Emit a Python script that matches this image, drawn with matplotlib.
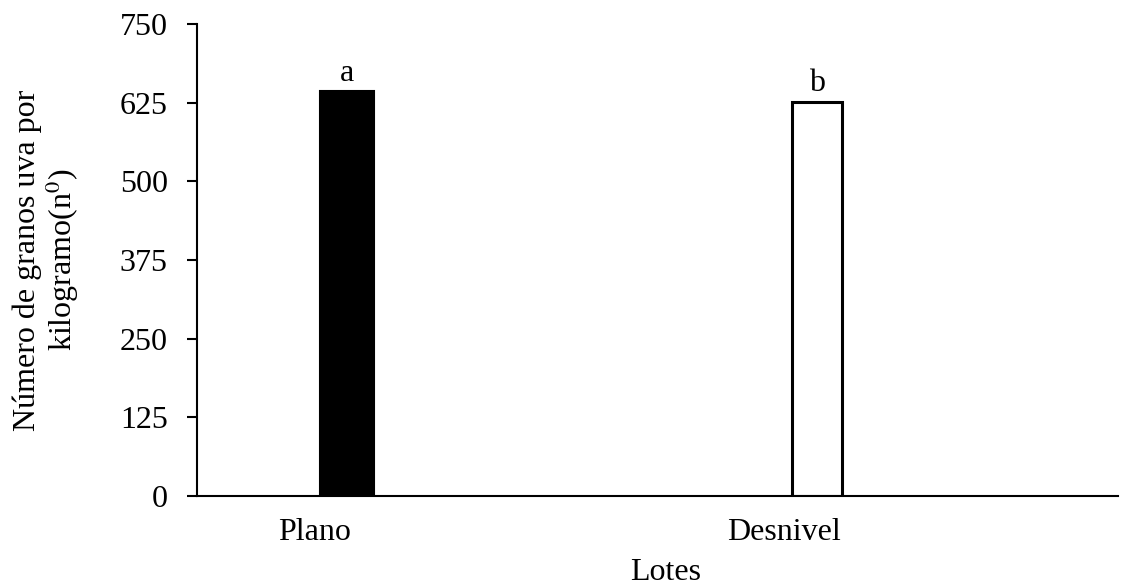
import matplotlib.pyplot as plt

lotes = ["Plano", "Desnivel"]
granos = [643, 626]
letras = ["a", "b"]
yticks = [0, 125, 250, 375, 500, 625, 750]

plt.rcParams['font.family'] = ['Liberation Serif', 'DejaVu Serif']
plt.rcParams['mathtext.fontset'] = 'stix'

fig = plt.figure(figsize=(11.23, 5.88), dpi=100)
ax = fig.add_axes([0.1754, 0.1565, 0.82, 0.8027])

x = list(range(len(lotes)))
ax.bar(x[0], granos[0], width=0.115, color="black", edgecolor="black", linewidth=1.5)
ax.bar(x[1], granos[1], width=0.105, color="white", edgecolor="black", linewidth=2.2)

fs = 23
for xi, v, l in zip(x, granos, letras):
    ax.text(xi, v + 6, l, ha="center", va="bottom", fontsize=fs)

ax.set_ylim(0, 750)
ax.set_yticks(yticks)
ax.set_xlim(-0.319, 1.64)
ax.set_xticks([xi - 0.07 for xi in x])
ax.set_xticklabels(lotes)
ax.tick_params(axis="x", length=0, labelsize=fs, pad=16)
ax.tick_params(axis="y", direction="out", length=7, width=1.5, labelsize=fs, pad=14)

for s in ["top", "right"]:
    ax.spines[s].set_visible(False)
ax.spines["left"].set_linewidth(1.5)
ax.spines["bottom"].set_linewidth(1.5)

ax.set_ylabel("Número de granos uva por\nkilogramo(n$^0$)", fontsize=fs, labelpad=28, linespacing=1.05)
ax.set_xlabel("Lotes", fontsize=fs, labelpad=8)
ax.xaxis.label.set_x(0.509)

fig.savefig("out.png", dpi=100)
